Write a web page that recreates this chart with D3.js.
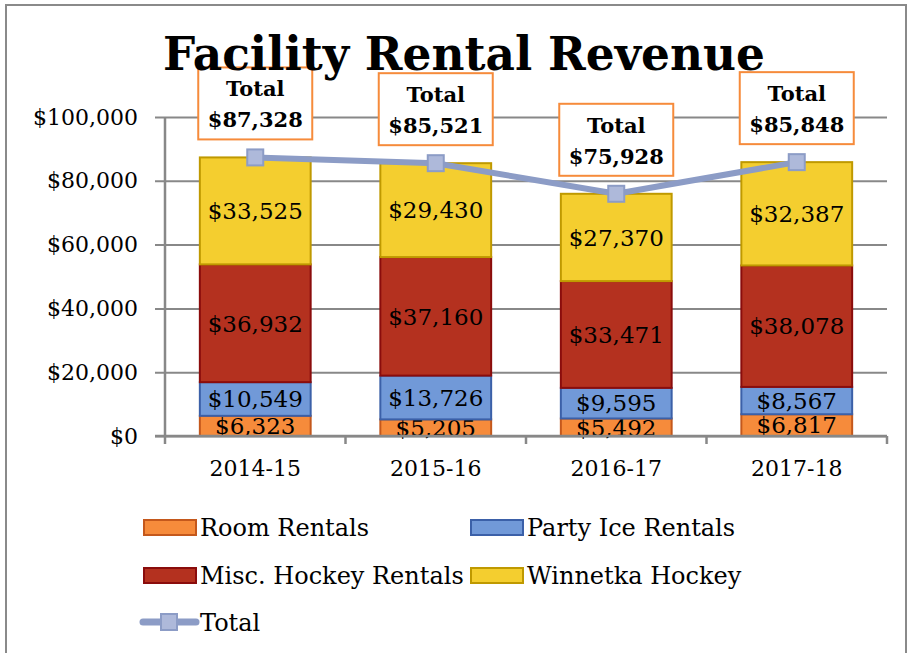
<!DOCTYPE html>
<html>
<head>
<meta charset="utf-8">
<script src="https://cdn.jsdelivr.net/npm/d3@7"></script>
<style>
  body { margin: 0; background: #fff; }
  svg text { font-family: "DejaVu Serif", "Liberation Serif", serif; fill: #000; }
</style>
</head>
<body>
<div id="chart"></div>
<script>
// chart data
var years = ["2014-15", "2015-16", "2016-17", "2017-18"];
var roomRentals = [6323, 5205, 5492, 6817];
var partyIce = [10549, 13726, 9595, 8567];
var miscHockey = [36932, 37160, 33471, 38078];
var winnetka = [33525, 29430, 27370, 32387];
var totals = [87328, 85521, 75928, 85848];
var yTicks = [0, 20000, 40000, 60000, 80000, 100000];

var series = [
  {key: "room", name: "Room Rentals", values: roomRentals, fill: "#F68B3B", stroke: "#C4581C"},
  {key: "party", name: "Party Ice Rentals", values: partyIce, fill: "#7199D8", stroke: "#3B60A8"},
  {key: "misc", name: "Misc. Hockey Rentals", values: miscHockey, fill: "#B4311F", stroke: "#8A0C0C"},
  {key: "winn", name: "Winnetka Hockey", values: winnetka, fill: "#F4CE2F", stroke: "#BF9900"}
];

var W = 920, H = 653;
var margin = {top: 117, right: 33, bottom: 217, left: 165},
    width = W - margin.left - margin.right,
    height = H - margin.top - margin.bottom;

var svg = d3.select("#chart").append("svg")
    .attr("width", W)
    .attr("height", H);

// outer frame
svg.append("rect")
    .attr("x", 6).attr("y", 5)
    .attr("width", 900).attr("height", 670)
    .attr("fill", "none")
    .attr("stroke", "#8a8a8a")
    .attr("stroke-width", 2);

var g = svg.append("g")
    .attr("transform", "translate(" + margin.left + "," + margin.top + ")");

var x = d3.scaleBand()
    .domain(years)
    .range([0, width])
    .paddingInner(0.375)
    .paddingOuter(0.1875);

var y = d3.scaleLinear()
    .domain([0, 100000])
    .range([height, 0]);

// gridlines + y labels
var yAxis = g.append("g")
    .attr("transform", "translate(" + width + ",0)")
    .call(d3.axisLeft(y)
        .tickValues(yTicks)
        .tickSize(width + 10)
        .tickPadding(17)
        .tickFormat(function(d) { return "$" + d3.format(",")(d); }));
yAxis.select(".domain").remove();
yAxis.selectAll(".tick line")
    .attr("stroke", "#888")
    .attr("stroke-width", 2);
yAxis.selectAll(".tick text")
    .attr("font-size", "22px")
    .attr("font-family", "DejaVu Serif");

// y axis line
g.append("line")
    .attr("x1", 0).attr("x2", 0)
    .attr("y1", 0).attr("y2", height)
    .attr("stroke", "#888")
    .attr("stroke-width", 2.5);

// stacked bars
var table = years.map(function(yr, i) {
  var row = {year: yr};
  series.forEach(function(s) { row[s.key] = s.values[i]; });
  return row;
});
var stack = d3.stack().keys(series.map(function(s) { return s.key; }));
var stacked = stack(table);

var layers = g.selectAll(".layer")
    .data(stacked)
  .enter().append("g")
    .attr("class", "layer");

layers.selectAll("rect")
    .data(function(d, li) { return d.map(function(p) { p.key = d.key; p.li = li; return p; }); })
  .enter().append("rect")
    .attr("x", function(d) { return x(d.data.year) + 1; })
    .attr("width", x.bandwidth() - 2)
    .attr("y", function(d) { return y(d[1]); })
    .attr("height", function(d) { return y(d[0]) - y(d[1]); })
    .attr("fill", function(d) { return series[d.li].fill; })
    .attr("stroke", function(d) { return series[d.li].stroke; })
    .attr("stroke-width", 2);

// segment labels
layers.selectAll(".seg-label")
    .data(function(d) { return d; })
  .enter().append("text")
    .attr("class", "seg-label")
    .attr("x", function(d) { return x(d.data.year) + x.bandwidth() / 2; })
    .attr("y", function(d) { return (y(d[0]) + y(d[1])) / 2; })
    .attr("dy", "0.36em")
    .attr("text-anchor", "middle")
    .attr("font-size", "23px")
    .text(function(d) { return "$" + d3.format(",")(d.data[d.key]); });

// x axis line
g.append("line")
    .attr("x1", -10).attr("x2", width)
    .attr("y1", height).attr("y2", height)
    .attr("stroke", "#888")
    .attr("stroke-width", 2.5);

// boundary ticks
var step = x.step();
var bounds = d3.range(years.length + 1).map(function(i) { return i * step; });
g.selectAll(".xtick")
    .data(bounds)
  .enter().append("line")
    .attr("x1", function(d) { return d; })
    .attr("x2", function(d) { return d; })
    .attr("y1", height)
    .attr("y2", height + 8)
    .attr("stroke", "#888")
    .attr("stroke-width", 2.5);

// x labels
var xAxis = g.append("g")
    .attr("transform", "translate(0," + height + ")")
    .call(d3.axisBottom(x).tickSize(0).tickPadding(24));
xAxis.select(".domain").remove();
xAxis.selectAll(".tick text")
    .attr("font-size", "22px")
    .attr("font-family", "DejaVu Serif");

// total line
var lineColor = "#8C9CC6";
var line = d3.line()
    .x(function(d, i) { return x(years[i]) + x.bandwidth() / 2; })
    .y(function(d) { return y(d); });

g.append("path")
    .datum(totals)
    .attr("d", line)
    .attr("fill", "none")
    .attr("stroke", lineColor)
    .attr("stroke-width", 6)
    .attr("stroke-linejoin", "round");

g.selectAll(".marker")
    .data(totals)
  .enter().append("rect")
    .attr("x", function(d, i) { return x(years[i]) + x.bandwidth() / 2 - 8; })
    .attr("y", function(d) { return y(d) - 8; })
    .attr("width", 16)
    .attr("height", 16)
    .attr("fill", "#AEB9DA")
    .attr("stroke", lineColor)
    .attr("stroke-width", 2);

// total label boxes
var boxes = g.selectAll(".total-box")
    .data(totals)
  .enter().append("g")
    .attr("transform", function(d, i) {
      return "translate(" + (x(years[i]) + x.bandwidth() / 2) + "," + (y(d) - 18) + ")";
    });

boxes.append("rect")
    .attr("x", -57)
    .attr("y", -72)
    .attr("width", 114)
    .attr("height", 72)
    .attr("fill", "#fff")
    .attr("stroke", "#F68B3B")
    .attr("stroke-width", 2);

boxes.append("text")
    .attr("y", -43)
    .attr("text-anchor", "middle")
    .attr("font-size", "21px")
    .attr("font-weight", "bold")
    .text("Total");

boxes.append("text")
    .attr("y", -12)
    .attr("text-anchor", "middle")
    .attr("font-size", "21px")
    .attr("font-weight", "bold")
    .text(function(d) { return "$" + d3.format(",")(d); });

// title (drawn over the label boxes, as in the original)
svg.append("text")
    .attr("x", 464)
    .attr("y", 70)
    .attr("text-anchor", "middle")
    .attr("font-size", "46px")
    .attr("font-weight", "bold")
    .attr("textLength", 602)
    .attr("lengthAdjust", "spacingAndGlyphs")
    .text("Facility Rental Revenue");

// legend
var legendPos = [
  {x: 143, y: 527},
  {x: 470, y: 527},
  {x: 143, y: 575},
  {x: 470, y: 575}
];

var legend = svg.selectAll(".legend")
    .data(series)
  .enter().append("g")
    .attr("transform", function(d, i) {
      return "translate(" + legendPos[i].x + "," + legendPos[i].y + ")";
    });

legend.append("rect")
    .attr("x", 1)
    .attr("y", -7)
    .attr("width", 52)
    .attr("height", 15)
    .attr("fill", function(d) { return d.fill; })
    .attr("stroke", function(d) { return d.stroke; })
    .attr("stroke-width", 2);

legend.append("text")
    .attr("x", 57)
    .attr("dy", "0.36em")
    .attr("font-size", "24px")
    .text(function(d) { return d.name; });

var totLeg = svg.append("g")
    .attr("transform", "translate(143,622)");
totLeg.append("line")
    .attr("x1", 0).attr("x2", 53)
    .attr("stroke", lineColor)
    .attr("stroke-width", 7)
    .attr("stroke-linecap", "round");
totLeg.append("rect")
    .attr("x", 18).attr("y", -8)
    .attr("width", 16).attr("height", 16)
    .attr("fill", "#AEB9DA")
    .attr("stroke", lineColor)
    .attr("stroke-width", 2);
totLeg.append("text")
    .attr("x", 57)
    .attr("dy", "0.36em")
    .attr("font-size", "24px")
    .text("Total");
</script>
</body>
</html>
